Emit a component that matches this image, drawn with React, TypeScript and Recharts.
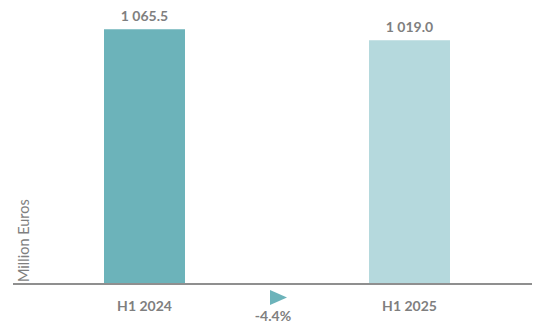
import { Bar, BarChart, Cell, Customized, LabelList, XAxis, YAxis } from "recharts";

const categories = ["H1 2024", "H1 2025"];
const values = [1065.5, 1019.0];
const barColors = ["#6cb3ba", "#b5d9dd"];
const yLabel = "Million Euros";

const W = 534;
const H = 325;
const margin = { top: 21, right: 2, left: 0, bottom: 11 };
const textGray = "#7f7f7f";
const font = "Lato, 'Open Sans', sans-serif";

const data = categories.map((name, i) => ({ name, value: values[i] }));

function fmt(v: number) {
  const [int, dec] = v.toFixed(1).split(".");
  return int.replace(/\B(?=(\d{3})+(?!\d))/g, " ") + "." + dec;
}

const change = ((values[1] - values[0]) / values[0]) * 100;

// arrow + % change sitting between the two bars, under the axis
function ChangeMarker() {
  const cx = 278;
  const top = 290;
  return (
    <g>
      <polygon
        points={`${cx - 8},${top} ${cx + 9},${top + 7.5} ${cx - 8},${top + 15}`}
        fill={barColors[0]}
      />
      <text
        x={cx - 5}
        y={321}
        textAnchor="middle"
        fill={textGray}
        fontFamily={font}
        fontWeight={700}
        fontSize={14}
      >
        {`${change.toFixed(1)}%`}
      </text>
    </g>
  );
}

export default function App() {
  return (
    <div style={{ position: "absolute", left: 0, top: 0, width: W, height: H, background: "#fff" }}>
      <BarChart width={W} height={H} data={data} margin={margin}>
        <XAxis
          dataKey="name"
          height={30}
          padding={{ left: -1, right: -10 }}
          axisLine={{ stroke: "#8f8f8f", strokeWidth: 2 }}
          tickLine={false}
          tickSize={15}
          tick={{ fill: textGray, fontFamily: font, fontWeight: 700, fontSize: 14 }}
        />
        <YAxis
          width={13}
          domain={[0, 1100]}
          axisLine={false}
          tickLine={false}
          tick={false}
          label={{
            content: (props: any) => {
              const vb = props.viewBox || { x: 0, y: 0, width: 13, height: 263 };
              const x = vb.x + vb.width + 16;
              const y = vb.y + vb.height - 2;
              return (
                <text
                  x={x}
                  y={y}
                  transform={`rotate(-90, ${x}, ${y})`}
                  textAnchor="start"
                  fill={textGray}
                  fontFamily={font}
                  fontSize={14.5}
                >
                  {yLabel}
                </text>
              );
            },
          }}
        />
        <Bar dataKey="value" barSize={81} isAnimationActive={false}>
          {data.map((d, i) => (
            <Cell key={d.name} fill={barColors[i]} />
          ))}
          <LabelList
            dataKey="value"
            position="top"
            offset={8}
            formatter={(v: any) => fmt(Number(v))}
            fill={textGray}
            fontFamily={font}
            fontWeight={700}
            fontSize={14}
          />
        </Bar>
        <Customized component={ChangeMarker} />
      </BarChart>
    </div>
  );
}
